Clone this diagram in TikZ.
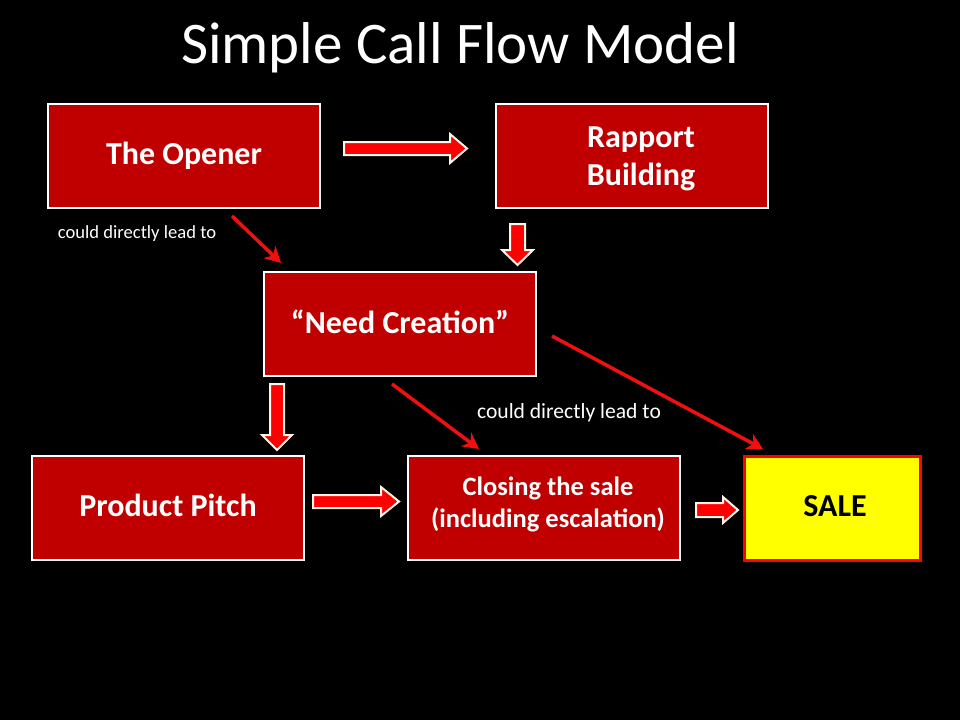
\documentclass[tikz,border=0pt]{standalone}
\usepackage{fontspec}
\setmainfont{Carlito}
\usetikzlibrary{arrows.meta}
\definecolor{boxred}{HTML}{C00000}
\definecolor{arrred}{HTML}{FF0000}
\definecolor{lineRed}{HTML}{F01010}
\definecolor{outl}{HTML}{FFF4EA}
\definecolor{saleyellow}{HTML}{FFFF00}
\begin{document}
\begin{tikzpicture}[x=1pt,y=-1pt,
  box/.style={draw=white,line width=2.5pt,fill=boxred,minimum width=272pt,minimum height=104pt,
    inner sep=0pt,text=white,align=center,font=\fontsize{32}{38}\selectfont\bfseries},
  salebox/.style={draw=red,line width=3pt,fill=saleyellow,minimum width=176pt,minimum height=104pt,
    inner sep=0pt,text=black,font=\fontsize{32}{38}\selectfont\bfseries},
  blockarrow/.style={fill=arrred,draw=outl,line width=2pt,line join=miter},
  diag/.style={draw=lineRed,line width=3.5pt,-{Stealth[length=16pt,width=17pt]}},
  lbl/.style={text=white,inner sep=0pt},
  btext/.style={text=white,inner sep=0pt,align=center,font=\fontsize{32}{38}\selectfont\bfseries}
]
\useasboundingbox[fill=black] (0,0) rectangle (960,720);
% title
\node[text=white,font=\fontsize{59}{70}\selectfont] (title) at (460,48) {Simple Call Flow Model};
% boxes
\node[box] (opener) at (184,156) {};
\node[btext] (openertxt) at (184,156) {The Opener};
\node[box] (rapport) at (632,156) {};
\node[btext,font=\fontsize{32}{38.5}\selectfont\bfseries] (rapporttxt) at (641,159) {Rapport\\Building};
\node[box] (need) at (400,324) {};
\node[btext] (needtxt) at (400,322) {“Need Creation”};
\node[box] (pitch) at (168,508) {};
\node[btext] (pitchtxt) at (168,505) {Product Pitch};
\node[box] (closing) at (544,508) {};
\node[btext,font=\fontsize{26.5}{32}\selectfont\bfseries] (closingtxt) at (548,504) {Closing the sale\\(including escalation)};
\node[salebox] (sale) at (832,508) {};
\node[inner sep=0pt,font=\fontsize{32}{38}\selectfont\bfseries] (saletxt) at (835,506) {SALE};
% block arrows
\draw[blockarrow] (344,142) -- (450,142) -- (450,134) -- (467,148.5) -- (450,163) -- (450,155) -- (344,155) -- cycle;
\draw[blockarrow] (510,224) -- (525,224) -- (525,250) -- (533,250) -- (517.5,265) -- (502,250) -- (510,250) -- cycle;
\draw[blockarrow] (270,384) -- (284,384) -- (284,435) -- (292,435) -- (277,450) -- (262,435) -- (270,435) -- cycle;
\draw[blockarrow] (313,495) -- (381,495) -- (381,487) -- (399,501.5) -- (381,516) -- (381,508) -- (313,508) -- cycle;
\draw[blockarrow] (696,503) -- (723,503) -- (723,497) -- (738,510) -- (723,523) -- (723,517) -- (696,517) -- cycle;
% diagonal arrows
\coordinate (d1s) at (232,216); \coordinate (d1e) at (281,263);
\coordinate (d2s) at (392,384); \coordinate (d2e) at (479,449);
\coordinate (d3s) at (552,336); \coordinate (d3e) at (763,449);
\draw[diag] (d1s) -- (d1e);
\draw[diag] (d2s) -- (d2e);
\draw[diag] (d3s) -- (d3e);
% labels
\node[lbl,font=\fontsize{18.6}{22}\selectfont] (l1) at (137,234) {could directly lead to};
\node[lbl,font=\fontsize{21.6}{26}\selectfont] (l2) at (569,413) {could directly lead to};
\end{tikzpicture}
\end{document}
